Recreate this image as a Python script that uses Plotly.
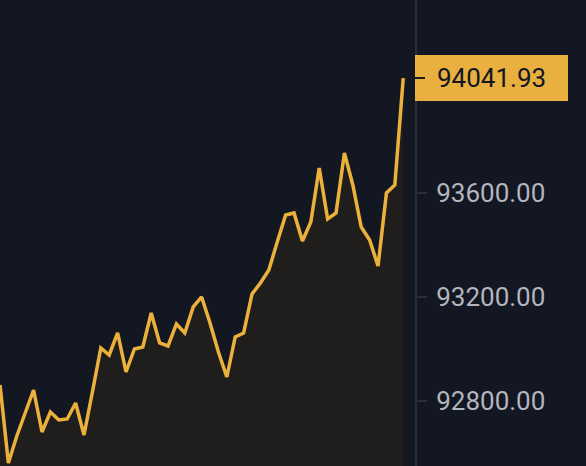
import plotly.graph_objects as go

prices = [92861.50, 92561.50, 92665.40, 92753.80, 92842.30, 92680.80, 92757.70, 92726.90,
          92730.80, 92792.30, 92669.20, 92834.60, 93003.80, 92976.90, 93061.50, 92911.50,
          93000.00, 93007.70, 93138.50, 93023.10, 93011.50, 93096.20, 93061.50, 93161.50,
          93200.00, 93100.00, 92988.50, 92892.30, 93046.20, 93061.50, 93211.50, 93253.80,
          93303.80, 93411.50, 93515.40, 93523.10, 93415.40, 93488.50, 93696.20, 93500.00,
          93523.10, 93753.80, 93630.80, 93469.20, 93419.20, 93319.20, 93600.00, 93630.80,
          94041.93]
idx = list(range(len(prices)))
tick_vals = [92800, 93200, 93600]
tick_text = [f"{v:.2f}" for v in tick_vals]
last_price = prices[-1]

BG = "#131722"
LINE = "#ebb13b"
BOX = "#e9b040"
AXIS = "#2a2e39"

fig = go.Figure()
fig.add_trace(go.Scatter(
    x=idx, y=prices, mode="lines",
    line=dict(color=LINE, width=3.5),
    fill="tozeroy", fillcolor="#1f1e1d",
    hoverinfo="skip",
))

fig.update_layout(
    width=586, height=466,
    margin=dict(l=0, r=171, t=0, b=0, pad=0),
    paper_bgcolor=BG, plot_bgcolor=BG,
    showlegend=False,
    xaxis=dict(range=[0, 49.4], visible=False, fixedrange=True),
    yaxis=dict(
        range=[92550, 94342], side="right",
        tickvals=tick_vals, ticktext=tick_text,
        ticks="outside", ticklen=10, tickwidth=2, tickcolor=AXIS,
        showline=True, linecolor=AXIS, linewidth=2,
        showgrid=False, zeroline=False,
        tickfont=dict(family="Roboto", size=26, color="#b2b5be"),
        ticklabelstandoff=4,
    ),
    shapes=[
        dict(type="rect", xref="paper", yref="y", xsizemode="pixel", ysizemode="pixel",
             xanchor=1, yanchor=last_price, x0=0, x1=153, y0=-23, y1=23,
             fillcolor=BOX, line=dict(width=0), layer="above"),
        dict(type="line", xref="paper", yref="y", xsizemode="pixel",
             xanchor=1, x0=0, x1=10, y0=last_price, y1=last_price,
             line=dict(color="#131722", width=2), layer="above"),
    ],
    annotations=[
        dict(xref="paper", yref="y", x=1, y=last_price, xanchor="left", yanchor="middle",
             xshift=20, text=f"{last_price:.2f}", showarrow=False,
             font=dict(family="Roboto", size=26, color="#131722")),
    ],
)

fig.write_html("out.html", config={"displayModeBar": False},
               post_script="document.body.style.margin='0';document.body.style.background='#131722';")
